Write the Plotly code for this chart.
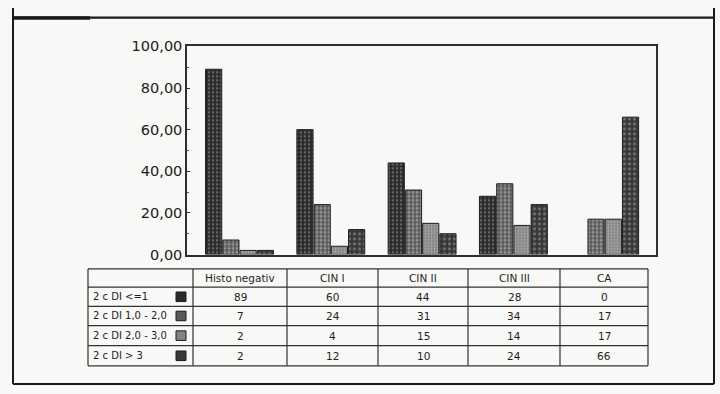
import plotly.graph_objects as go

# Categories (table columns / bar groups)
categories = ["Histo negativ", "CIN I", "CIN II", "CIN III", "CA"]

# Series names (table rows / bar colours)
series_names = ["2 c DI <=1", "2 c DI 1,0 - 2,0", "2 c DI 2,0 - 3,0", "2 c DI > 3"]

# Percentages per category
di_le_1 = [89, 60, 44, 28, 0]
di_1_2 = [7, 24, 31, 34, 17]
di_2_3 = [2, 4, 15, 14, 17]
di_gt_3 = [2, 12, 10, 24, 66]

# Y axis ticks
y_ticks = [0, 20, 40, 60, 80, 100]

series_values = [di_le_1, di_1_2, di_2_3, di_gt_3]

W, H = 720, 394
INK = "#1e1e1e"
PAPER = "#f8f8f6"
FONT = "DejaVu Sans"


def px(x):
    return x / W


def py(y):
    return 1 - y / H


# Bar styles: dark speckled fills
styles = [
    dict(bg="#2a2a2a", fg="#a0a0a0", shape=".", size=4, solidity=0.3),
    dict(bg="#5a5a5a", fg="#cfcfcf", shape=".", size=4, solidity=0.4),
    dict(bg="#838383", fg="#dadada", shape=".", size=3, solidity=0.35),
    dict(bg="#383838", fg="#aaaaaa", shape=".", size=5, solidity=0.3),
]

fig = go.Figure()
for name, vals, st in zip(series_names, series_values, styles):
    fig.add_trace(go.Bar(
        x=categories,
        y=vals,
        name=name,
        marker=dict(
            color=st["bg"],
            # no outline on empty bars
            line=dict(color="#1e1e1e", width=[1 if v > 0 else 0 for v in vals]),
            pattern=dict(shape=st["shape"], fgcolor=st["fg"], bgcolor=st["bg"],
                         size=st["size"], solidity=st["solidity"]),
        ),
        showlegend=False,
    ))

# Plot area in pixels
x0, x1 = 187, 656
y_top, y_bot = 40, 257

fig.update_layout(
    width=W, height=H,
    margin=dict(l=0, r=0, t=0, b=0),
    paper_bgcolor=PAPER,
    plot_bgcolor=PAPER,
    separators=",.",
    barmode="group",
    bargap=0.245,
    bargroupgap=0.06,
    font=dict(family=FONT, color=INK),
    xaxis=dict(
        domain=[px(x0), px(x1)],
        range=[-0.575, 4.562],
        showticklabels=False,
        ticks="",
        showgrid=False,
        showline=True, linecolor="#2e2e2e", linewidth=1.5, mirror=True,
        zeroline=False,
    ),
    yaxis=dict(
        domain=[py(y_bot), py(y_top)],
        range=[0, 100],
        tickvals=y_ticks,
        tickformat=".2f",
        ticks="inside", ticklen=3, tickcolor="#2e2e2e",
        minor=dict(dtick=10, ticks="inside", ticklen=2, tickcolor="#555"),
        showgrid=False,
        showline=True, linecolor="#2e2e2e", linewidth=1.5, mirror=True,
        zeroline=False,
        tickfont=dict(family=FONT, size=14.5, color="#1a1a1a"),
    ),
)

shapes = []
annotations = []

# Outer frame
frame_col = "#1a1a1a"
shapes.append(dict(type="line", xref="paper", yref="paper",
                   x0=px(13), x1=px(13), y0=py(0), y1=py(392),
                   line=dict(color=frame_col, width=2)))
shapes.append(dict(type="line", xref="paper", yref="paper",
                   x0=px(714), x1=px(714), y0=py(0), y1=py(392),
                   line=dict(color=frame_col, width=2)))
shapes.append(dict(type="line", xref="paper", yref="paper",
                   x0=px(13), x1=px(714), y0=py(10), y1=py(10),
                   line=dict(color=frame_col, width=2.2)))
shapes.append(dict(type="line", xref="paper", yref="paper",
                   x0=px(13), x1=px(90), y0=py(10.5), y1=py(10.5),
                   line=dict(color=frame_col, width=3.5)))
shapes.append(dict(type="line", xref="paper", yref="paper",
                   x0=px(13), x1=px(714), y0=py(392), y1=py(392),
                   line=dict(color=frame_col, width=2)))

# Data table below the chart
col_x = [88, 193, 287, 378, 468, 560, 648]
row_y = [272, 291, 311, 331, 352, 373]
grid_col = "#333333"

for y in row_y:
    shapes.append(dict(type="line", xref="paper", yref="paper",
                       x0=px(col_x[0]), x1=px(col_x[-1]), y0=py(y), y1=py(y),
                       line=dict(color=grid_col, width=1.2)))
for x in col_x:
    shapes.append(dict(type="line", xref="paper", yref="paper",
                       x0=px(x), x1=px(x), y0=py(row_y[0]), y1=py(row_y[-1]),
                       line=dict(color=grid_col, width=1.2)))

cell_font = dict(family=FONT, size=10.5, color="#1e1e1e")
label_font = dict(family=FONT, size=10, color="#1e1e1e")

# Header row
for i, cat in enumerate(categories):
    cx = (col_x[i + 1] + col_x[i + 2]) / 2
    cy = (row_y[0] + row_y[1]) / 2
    annotations.append(dict(x=px(cx), y=py(cy), xref="paper", yref="paper",
                            text=cat, showarrow=False, xanchor="center", yanchor="middle",
                            font=cell_font))

# Body rows: series label, swatch, values
for r, (name, vals, st) in enumerate(zip(series_names, series_values, styles)):
    ya, yb = row_y[r + 1], row_y[r + 2]
    cy = (ya + yb) / 2
    annotations.append(dict(x=px(91), y=py(cy), xref="paper", yref="paper",
                            text=name, showarrow=False, xanchor="left", yanchor="middle",
                            font=label_font))
    shapes.append(dict(type="rect", xref="paper", yref="paper",
                       x0=px(176), x1=px(186), y0=py(cy - 5), y1=py(cy + 5),
                       fillcolor=st["bg"], line=dict(color="#1e1e1e", width=1)))
    for i, v in enumerate(vals):
        cx = (col_x[i + 1] + col_x[i + 2]) / 2
        annotations.append(dict(x=px(cx), y=py(cy), xref="paper", yref="paper",
                                text=str(v), showarrow=False, xanchor="center", yanchor="middle",
                                font=cell_font))

fig.update_layout(shapes=shapes, annotations=annotations)

fig.write_html("out.html", config=dict(displayModeBar=False))
